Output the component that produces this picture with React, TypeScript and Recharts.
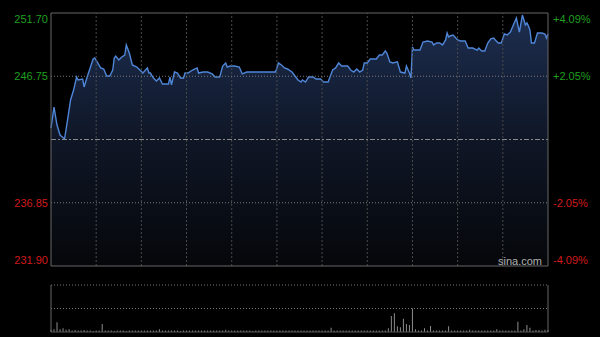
import {
  ComposedChart,
  Area,
  Line,
  Bar,
  XAxis,
  YAxis,
  ReferenceLine,
} from "recharts";

// minutes since open (HK session, 330 trading minutes)
const times = [
  0, 2, 4, 6, 9, 11, 13, 15, 17, 18,
  21, 22, 24, 26, 28, 29, 31, 33, 35, 37,
  39, 41, 42, 43, 45, 47, 49, 50, 52, 54,
  57, 59, 61, 64, 65, 66, 68, 70, 72, 74,
  78, 79, 80, 82, 84, 86, 88, 89, 91, 94,
  97, 98, 101, 104, 107, 109, 112, 114, 116, 117,
  119, 122, 125, 127, 130, 132, 149, 150, 151, 153,
  155, 157, 160, 162, 164, 166, 167, 169, 171, 174,
  176, 179, 181, 184, 187, 189, 191, 193, 197, 199,
  201, 203, 205, 207, 208, 210, 212, 216, 218, 220,
  222, 223, 225, 227, 230, 232, 235, 236, 238, 239,
  240, 241, 245, 247, 250, 253, 254, 256, 258, 260,
  262, 263, 264, 265, 267, 270, 272, 275, 277, 280,
  283, 284, 286, 288, 290, 292, 294, 295, 297, 299,
  301, 303, 305, 307, 309, 311, 313, 315, 316, 317,
  318, 319, 321, 323, 326, 328, 329, 330,
];

const prices = [
  242.7, 244.34, 242.93, 242.15, 241.84, 243.33, 244.89, 245.67, 246.69, 246.46,
  246.53, 245.91, 246.69, 247.4, 248.1, 248.18, 247.79, 247.4, 247.32, 246.77,
  246.77, 247.24, 248.18, 248.33, 248.02, 248.26, 248.41, 249.2, 248.57, 247.63,
  247.47, 247.24, 247.0, 247.4, 247.0, 247.0, 246.61, 246.38, 246.61, 246.14,
  246.14, 246.69, 246.07, 247.08, 247.0, 246.61, 246.61, 247.0, 247.0, 247.24,
  247.4, 247.0, 247.08, 247.08, 246.93, 246.69, 246.69, 247.55, 247.79, 247.47,
  247.55, 247.55, 247.47, 246.93, 247.08, 247.08, 247.08, 247.4, 247.79, 247.63,
  247.4, 247.32, 247.08, 246.77, 246.46, 246.3, 246.46, 246.3, 246.69, 246.69,
  246.53, 246.53, 246.3, 246.3, 247.24, 247.4, 247.79, 247.55, 247.55, 247.24,
  247.08, 247.32, 247.08, 247.24, 247.79, 247.79, 248.1, 248.1, 248.41, 248.41,
  248.73, 248.57, 247.87, 247.79, 247.87, 247.08, 247.0, 247.55, 247.0, 246.61,
  249.04, 248.8, 248.8, 249.43, 249.51, 249.43, 249.2, 249.35, 249.35, 249.2,
  249.59, 250.13, 249.82, 249.9, 249.98, 249.59, 249.51, 249.51, 248.96, 248.96,
  248.8, 248.96, 248.73, 248.73, 249.35, 249.67, 249.74, 249.59, 249.35, 249.35,
  250.06, 249.98, 250.21, 250.76, 251.31, 250.21, 251.54, 250.76, 250.92, 250.68,
  250.37, 249.35, 249.35, 250.13, 250.13, 250.06, 249.74, 250.06,
];

// volume, one bar every 2 minutes (relative units, panel top = 100)
const VOL_STEP = 2;
const volumes = [
  5, 6, 21, 6, 8, 5, 6, 3, 4, 3,
  3, 4, 3, 3, 2, 3, 3, 17, 3, 3,
  3, 2, 3, 3, 3, 2, 3, 3, 3, 3,
  3, 3, 3, 3, 3, 3, 6, 3, 3, 3,
  3, 3, 3, 2, 3, 3, 3, 3, 3, 3,
  3, 3, 3, 3, 3, 3, 3, 3, 5, 3,
  3, 3, 3, 3, 3, 3, 3, 2, 3, 3,
  3, 3, 3, 3, 3, 3, 3, 3, 3, 3,
  3, 3, 3, 3, 3, 3, 3, 3, 3, 3,
  3, 3, 3, 9, 3, 3, 3, 3, 3, 3,
  3, 3, 3, 3, 3, 3, 3, 3, 3, 3,
  3, 3, 8, 34, 40, 12, 10, 28, 17, 15,
  50, 6, 3, 3, 8, 3, 13, 3, 3, 3,
  3, 3, 12, 3, 3, 3, 3, 3, 3, 5,
  3, 3, 3, 3, 3, 3, 3, 3, 6, 3,
  3, 3, 3, 3, 3, 22, 3, 6, 15, 9,
  3, 4, 4, 3, 5, 4,
];

const PREV_CLOSE = 241.8;
const priceTicks = [231.9, 236.85, 241.8, 246.75, 251.7];
const gridMinutes = [30, 60, 90, 120, 150, 180, 210, 240, 270, 300];

const priceData = times.map((t, i) => ({ t, price: prices[i] }));
const volData = volumes.map((v, i) => ({ t: i * VOL_STEP, vol: v }));

const GREEN = "#1f9f1f";
const RED = "#d01a1a";
const FONT = "Arial, 'Liberation Sans', sans-serif";

function labelDy(v: number) {
  if (v === 251.7) return 10;
  if (v === 231.9) return -2;
  return 4;
}

function LeftTick(props: any) {
  const v = props.payload.value;
  if (v === PREV_CLOSE) return null;
  return (
    <text
      x={48}
      y={props.y + labelDy(v)}
      textAnchor="end"
      fill={v > PREV_CLOSE ? GREEN : RED}
      fontSize={11}
      fontFamily={FONT}
    >
      {v.toFixed(2)}
    </text>
  );
}

function RightTick(props: any) {
  const v = props.payload.value;
  if (v === PREV_CLOSE) return null;
  const pct = ((v - PREV_CLOSE) / PREV_CLOSE) * 100;
  return (
    <text
      x={553}
      y={props.y + labelDy(v)}
      textAnchor="start"
      fill={v > PREV_CLOSE ? GREEN : RED}
      fontSize={11}
      fontFamily={FONT}
    >
      {(pct > 0 ? "+" : "") + pct.toFixed(2) + "%"}
    </text>
  );
}

export default function App() {
  return (
    <div
      style={{
        position: "absolute",
        left: 0,
        top: 0,
        width: 600,
        height: 337,
        background: "#000",
        overflow: "hidden",
      }}
    >
      <div style={{ position: "absolute", left: 0, top: 0 }}>
        <ComposedChart
          width={600}
          height={280}
          data={priceData}
          margin={{ top: 13, right: 0, bottom: 14, left: 0 }}
        >
          <defs>
            <linearGradient id="areaFill" x1="0" y1="0" x2="0" y2="1">
              <stop offset="0%" stopColor="#1d2e50" />
              <stop offset="50%" stopColor="#0f1626" />
              <stop offset="100%" stopColor="#05070a" />
            </linearGradient>
          </defs>
          <XAxis dataKey="t" type="number" domain={[0, 330]} hide />
          <YAxis
            yAxisId="l"
            orientation="left"
            width={51}
            domain={[231.9, 251.7]}
            ticks={priceTicks}
            axisLine={false}
            tickLine={false}
            tick={<LeftTick />}
            interval={0}
          />
          <YAxis
            yAxisId="r"
            orientation="right"
            width={52}
            domain={[231.9, 251.7]}
            ticks={priceTicks}
            axisLine={false}
            tickLine={false}
            tick={<RightTick />}
            interval={0}
          />
          <Area
            yAxisId="l"
            type="linear"
            dataKey="price"
            stroke="#4f86d8"
            strokeWidth={1.4}
            fill="url(#areaFill)"
            fillOpacity={1}
            dot={false}
            activeDot={false}
            isAnimationActive={false}
          />
          <Line
            yAxisId="r"
            type="linear"
            dataKey="price"
            stroke="none"
            dot={false}
            activeDot={false}
            isAnimationActive={false}
          />
          {gridMinutes.map((m) => (
            <ReferenceLine
              key={m}
              yAxisId="l"
              x={m}
              stroke="#4a4a4a"
              strokeDasharray="2 2"
            />
          ))}
          <ReferenceLine yAxisId="l" y={246.75} stroke="#7a7a7a" strokeDasharray="1 2" />
          <ReferenceLine yAxisId="l" y={236.85} stroke="#7a7a7a" strokeDasharray="1 2" />
          <ReferenceLine yAxisId="l" y={PREV_CLOSE} stroke="#8a8a8a" strokeDasharray="5 2 2 2" />
          <ReferenceLine yAxisId="l" y={251.7} stroke="#666" />
          <ReferenceLine yAxisId="l" y={231.9} stroke="#666" />
          <ReferenceLine yAxisId="l" x={0} stroke="#666" />
          <ReferenceLine yAxisId="l" x={330} stroke="#666" />
        </ComposedChart>
      </div>
      <div
        style={{
          position: "absolute",
          left: 498,
          top: 255,
          color: "#b0b0b0",
          fontSize: 11,
          fontFamily: FONT,
          lineHeight: "12px",
        }}
      >
        sina.com
      </div>
      <div style={{ position: "absolute", left: 0, top: 280 }}>
        <ComposedChart
          width={600}
          height={57}
          data={volData}
          margin={{ top: 5, right: 52, bottom: 5, left: 51 }}
        >
          <XAxis dataKey="t" type="number" domain={[0, 330]} hide />
          <YAxis domain={[0, 100]} hide />
          <Bar dataKey="vol" fill="#8c8c8c" barSize={1} isAnimationActive={false} />
          <ReferenceLine y={100} stroke="#777" strokeDasharray="1 2" />
          <ReferenceLine y={50} stroke="#777" strokeDasharray="1 2" />
          <ReferenceLine y={0} stroke="#555" />
          <ReferenceLine x={0} stroke="#666" />
          <ReferenceLine x={330} stroke="#666" />
        </ComposedChart>
      </div>
    </div>
  );
}
